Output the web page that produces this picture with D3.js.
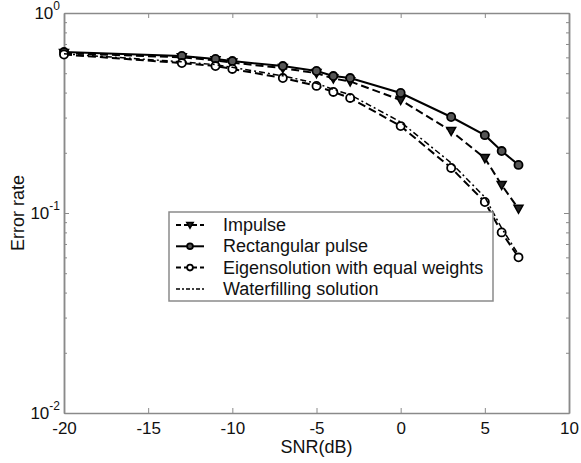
<!DOCTYPE html>
<html>
<head>
<meta charset="utf-8">
<script src="https://cdn.jsdelivr.net/npm/d3@7"></script>
<style>
body { margin: 0; background: #fff; }
text { font-family: "Liberation Sans", Arial, sans-serif; }
</style>
</head>
<body>
<div id="chart"></div>
<script>
const snr = [-20, -13, -11, -10, -7, -5, -4, -3, 0, 3, 5, 6, 7];
const impulse = [0.63, 0.60, 0.58, 0.565, 0.53, 0.50, 0.47, 0.455, 0.367, 0.257, 0.188, 0.138, 0.105];
const rectPulse = [0.638, 0.61, 0.589, 0.575, 0.543, 0.513, 0.484, 0.473, 0.398, 0.302, 0.245, 0.204, 0.174];
const eigen = [0.62, 0.562, 0.543, 0.525, 0.473, 0.432, 0.403, 0.376, 0.272, 0.168, 0.1135, 0.080, 0.060];
const waterfill = [0.625, 0.57, 0.552, 0.535, 0.485, 0.445, 0.415, 0.39, 0.285, 0.178, 0.12, 0.084, 0.062];
const xTicks = [-20, -15, -10, -5, 0, 5, 10];
const yTicks = [0.01, 0.1, 1];
const yExps = ["-2", "-1", "0"];
const legendLabels = ["Impulse", "Rectangular pulse", "Eigensolution with equal weights", "Waterfilling solution"];

const W = 581, H = 463;
const margin = {top: 13, right: 12, bottom: 50, left: 64};

const svg = d3.select("#chart").append("svg")
    .attr("width", W)
    .attr("height", H);

const x = d3.scaleLinear().domain([-20, 10]).range([margin.left, W - margin.right]);
const y = d3.scaleLog().domain([0.01, 1]).range([H - margin.bottom, margin.top]);

const axisColor = "#8a8a8a";

// minor ticks for log axis
const minor = [];
[0.01, 0.1].forEach(b => { for (let k = 2; k <= 9; k++) minor.push(b * k); });

function styleAxis(g) {
    g.select(".domain").attr("stroke", axisColor).attr("stroke-width", 1.5);
    g.selectAll(".tick line").attr("stroke", axisColor);
}

svg.append("g").attr("transform", `translate(0,${H - margin.bottom})`)
    .call(d3.axisBottom(x).tickValues(xTicks).tickSize(-5).tickSizeOuter(0).tickPadding(9)
        .tickFormat(d => String(d)))
    .call(styleAxis)
    .call(g => g.selectAll("text").attr("font-size", 17).attr("fill", "#111")
        .style("font-family", "Liberation Sans, Arial"));

svg.append("g").attr("transform", `translate(0,${margin.top})`)
    .call(d3.axisTop(x).tickValues(xTicks).tickSize(-5).tickSizeOuter(0).tickFormat(""))
    .call(styleAxis);

svg.append("g").attr("transform", `translate(${margin.left},0)`)
    .call(d3.axisLeft(y).tickValues(yTicks).tickSize(-5).tickSizeOuter(0).tickFormat(""))
    .call(styleAxis);
svg.append("g").attr("transform", `translate(${margin.left},0)`)
    .call(d3.axisLeft(y).tickValues(minor).tickSize(-3).tickSizeOuter(0).tickFormat(""))
    .call(styleAxis);
svg.append("g").attr("transform", `translate(${W - margin.right},0)`)
    .call(d3.axisRight(y).tickValues(yTicks).tickSize(-5).tickSizeOuter(0).tickFormat(""))
    .call(styleAxis);
svg.append("g").attr("transform", `translate(${W - margin.right},0)`)
    .call(d3.axisRight(y).tickValues(minor).tickSize(-3).tickSizeOuter(0).tickFormat(""))
    .call(styleAxis);

// y tick labels 10^n
yTicks.forEach((v, i) => {
    const t = svg.append("text")
        .attr("x", margin.left - 4)
        .attr("y", y(v) + 6)
        .attr("text-anchor", "end")
        .attr("font-size", 17)
        .attr("fill", "#111");
    t.append("tspan").text("10");
    t.append("tspan").attr("dy", -9).attr("font-size", 12).text(yExps[i]);
});

svg.append("text")
    .attr("x", (x(-20) + x(10)) / 2)
    .attr("y", 453)
    .attr("text-anchor", "middle")
    .attr("font-size", 18)
    .attr("fill", "#111")
    .text("SNR(dB)");

svg.append("text")
    .attr("transform", `translate(24,${y(0.1)}) rotate(-90)`)
    .attr("text-anchor", "middle")
    .attr("font-size", 18)
    .attr("fill", "#111")
    .text("Error rate");

const series = [
    {vals: impulse, dash: "8,4", width: 2, marker: "tri"},
    {vals: rectPulse, dash: null, width: 2, marker: "dot"},
    {vals: eigen, dash: "8,4", width: 2, marker: "circ"},
    {vals: waterfill, dash: "6,3,2,3", width: 1.5, marker: null}
];

const line = d3.line().x(d => x(d[0])).y(d => y(d[1]));

function drawMarker(g, type, cx, cy, r) {
    if (type === "tri") {
        g.append("path")
            .attr("d", `M${cx - r},${cy - r * 0.8}L${cx + r},${cy - r * 0.8}L${cx},${cy + r}Z`)
            .attr("fill", "#222").attr("stroke", "#000").attr("stroke-width", 1.5);
    } else if (type === "dot") {
        g.append("circle").attr("cx", cx).attr("cy", cy).attr("r", r * 0.9)
            .attr("fill", "#555").attr("stroke", "#000").attr("stroke-width", 1.8);
    } else if (type === "circ") {
        g.append("circle").attr("cx", cx).attr("cy", cy).attr("r", r * 0.9)
            .attr("fill", "#fff").attr("stroke", "#000").attr("stroke-width", 1.8);
    }
}

const plot = svg.append("g");
series.forEach(s => {
    const pts = snr.map((v, i) => [v, s.vals[i]]);
    plot.append("path")
        .attr("d", line(pts))
        .attr("fill", "none")
        .attr("stroke", "#000")
        .attr("stroke-width", s.width)
        .attr("stroke-dasharray", s.dash);
    if (s.marker) pts.forEach(p => drawMarker(plot, s.marker, x(p[0]), y(p[1]), 4.5));
});

// legend
const lg = svg.append("g");
lg.append("rect")
    .attr("x", 169).attr("y", 212)
    .attr("width", 324).attr("height", 89)
    .attr("fill", "#fff").attr("stroke", axisColor).attr("stroke-width", 1.5);

legendLabels.forEach((lab, i) => {
    const s = series[i];
    const ly = 225 + i * 21.3;
    lg.append("line")
        .attr("x1", 176).attr("x2", 204).attr("y1", ly).attr("y2", ly)
        .attr("stroke", "#000").attr("stroke-width", s.width)
        .attr("stroke-dasharray", s.dash ? (i === 3 ? "4,2,2,2" : "5,3") : null);
    if (s.marker) drawMarker(lg, s.marker, 190, ly, 3.2);
    lg.append("text")
        .attr("x", 223).attr("y", ly + 6)
        .attr("font-size", 18)
        .attr("fill", "#111")
        .text(lab);
});
</script>
</body>
</html>
